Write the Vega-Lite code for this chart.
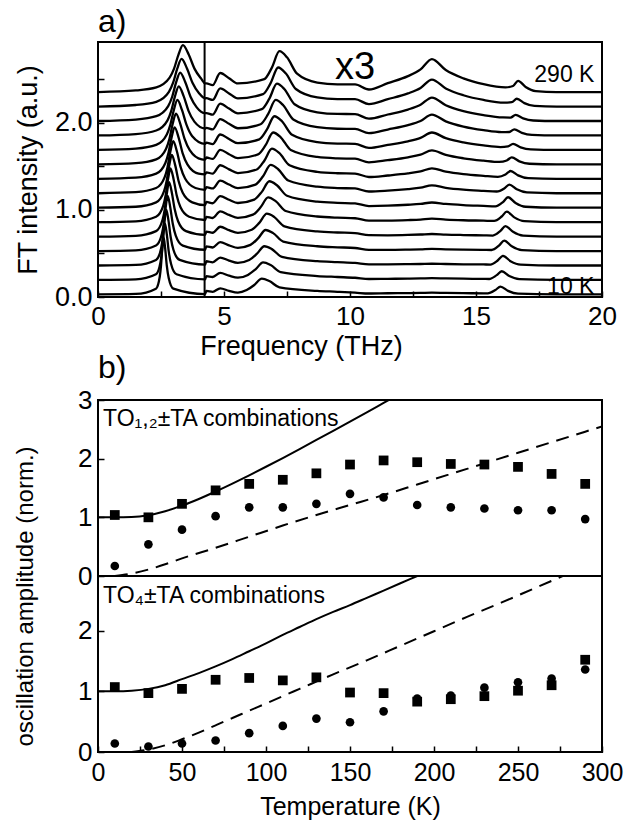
{
"$schema": "https://vega.github.io/schema/vega-lite/v6.json",
"padding": {"left": 11, "top": 4, "right": 0, "bottom": 0},
"config": {
 "font": "Liberation Sans",
 "view": {"stroke": "black", "strokeWidth": 2},
 "axis": {"domain": false, "grid": false, "tickColor": "black", "tickWidth": 1.5, "tickSize": -6, "labelColor": "black", "titleColor": "black", "titleFontWeight": "normal", "labelFlush": false, "labelOverlap": false}
},
"datasets": {
"spec": [
{"k":10,"f":0,"v":0.03},{"k":10,"f":1.5,"v":0.035},{"k":10,"f":2.3,"v":0.096},{"k":10,"f":2.45,"v":0.233},{"k":10,"f":2.5,"v":0.36},{"k":10,"f":2.55,"v":0.558},{"k":10,"f":2.6,"v":0.69},{"k":10,"f":2.665,"v":0.558},{"k":10,"f":2.73,"v":0.36},{"k":10,"f":2.808,"v":0.215},{"k":10,"f":2.99,"v":0.096},{"k":10,"f":4.25,"v":0.033},
{"k":10,"f":4.3,"v":0.07},{"k":10,"f":4.55,"v":0.06},{"k":10,"f":4.85,"v":0.1},{"k":10,"f":5.2,"v":0.07},{"k":10,"f":5.55,"v":0.05},{"k":10,"f":5.9,"v":0.08},{"k":10,"f":6.2,"v":0.138},{"k":10,"f":6.5,"v":0.21},{"k":10,"f":6.8,"v":0.183},{"k":10,"f":7.2,"v":0.111},{"k":10,"f":8.7,"v":0.07},{"k":10,"f":9.5,"v":0.06},{"k":10,"f":10.2,"v":0.05},{"k":10,"f":10.75,"v":0.04},{"k":10,"f":11.5,"v":0.043},{"k":10,"f":12.3,"v":0.045},{"k":10,"f":12.8,"v":0.047},{"k":10,"f":13.25,"v":0.05},{"k":10,"f":13.8,"v":0.047},{"k":10,"f":14.5,"v":0.044},{"k":10,"f":15.3,"v":0.042},{"k":10,"f":15.47,"v":0.041},{"k":10,"f":15.77,"v":0.08},{"k":10,"f":15.97,"v":0.12},{"k":10,"f":16.27,"v":0.07},{"k":10,"f":16.67,"v":0.038},{"k":10,"f":18.2,"v":0.03},{"k":10,"f":20,"v":0.03},
{"k":30,"f":0,"v":0.196},{"k":30,"f":1.5,"v":0.202},{"k":30,"f":2.301,"v":0.261},{"k":30,"f":2.478,"v":0.397},{"k":30,"f":2.537,"v":0.522},{"k":30,"f":2.596,"v":0.717},{"k":30,"f":2.655,"v":0.847},{"k":30,"f":2.732,"v":0.717},{"k":30,"f":2.808,"v":0.522},{"k":30,"f":2.9,"v":0.379},{"k":30,"f":3.115,"v":0.261},{"k":30,"f":4.25,"v":0.202},
{"k":30,"f":4.3,"v":0.24},{"k":30,"f":4.55,"v":0.23},{"k":30,"f":4.85,"v":0.277},{"k":30,"f":5.2,"v":0.245},{"k":30,"f":5.55,"v":0.222},{"k":30,"f":5.95,"v":0.253},{"k":30,"f":6.25,"v":0.317},{"k":30,"f":6.55,"v":0.397},{"k":30,"f":6.85,"v":0.367},{"k":30,"f":7.25,"v":0.286},{"k":30,"f":8.7,"v":0.241},{"k":30,"f":9.5,"v":0.23},{"k":30,"f":10.2,"v":0.221},{"k":30,"f":10.75,"v":0.207},{"k":30,"f":11.5,"v":0.209},{"k":30,"f":12.3,"v":0.211},{"k":30,"f":12.8,"v":0.213},{"k":30,"f":13.25,"v":0.216},{"k":30,"f":13.8,"v":0.213},{"k":30,"f":14.5,"v":0.21},{"k":30,"f":15.3,"v":0.208},{"k":30,"f":15.52,"v":0.207},{"k":30,"f":15.82,"v":0.251},{"k":30,"f":16.02,"v":0.296},{"k":30,"f":16.32,"v":0.241},{"k":30,"f":16.72,"v":0.205},{"k":30,"f":18.2,"v":0.196},{"k":30,"f":20,"v":0.196},
{"k":50,"f":0,"v":0.362},{"k":50,"f":1.5,"v":0.369},{"k":50,"f":2.302,"v":0.426},{"k":50,"f":2.506,"v":0.56},{"k":50,"f":2.574,"v":0.684},{"k":50,"f":2.642,"v":0.876},{"k":50,"f":2.71,"v":1.005},{"k":50,"f":2.798,"v":0.876},{"k":50,"f":2.887,"v":0.684},{"k":50,"f":2.993,"v":0.543},{"k":50,"f":3.24,"v":0.426},{"k":50,"f":4.25,"v":0.372},
{"k":50,"f":4.3,"v":0.411},{"k":50,"f":4.55,"v":0.399},{"k":50,"f":4.85,"v":0.453},{"k":50,"f":5.2,"v":0.419},{"k":50,"f":5.55,"v":0.393},{"k":50,"f":6.0,"v":0.426},{"k":50,"f":6.3,"v":0.495},{"k":50,"f":6.6,"v":0.583},{"k":50,"f":6.9,"v":0.55},{"k":50,"f":7.3,"v":0.461},{"k":50,"f":8.7,"v":0.412},{"k":50,"f":9.5,"v":0.401},{"k":50,"f":10.2,"v":0.392},{"k":50,"f":10.75,"v":0.375},{"k":50,"f":11.5,"v":0.375},{"k":50,"f":12.3,"v":0.377},{"k":50,"f":12.8,"v":0.379},{"k":50,"f":13.25,"v":0.382},{"k":50,"f":13.8,"v":0.379},{"k":50,"f":14.5,"v":0.376},{"k":50,"f":15.3,"v":0.374},{"k":50,"f":15.57,"v":0.373},{"k":50,"f":15.87,"v":0.422},{"k":50,"f":16.07,"v":0.472},{"k":50,"f":16.37,"v":0.412},{"k":50,"f":16.77,"v":0.372},{"k":50,"f":18.2,"v":0.362},{"k":50,"f":20,"v":0.362},
{"k":70,"f":0,"v":0.528},{"k":70,"f":1.5,"v":0.536},{"k":70,"f":2.303,"v":0.591},{"k":70,"f":2.534,"v":0.723},{"k":70,"f":2.611,"v":0.845},{"k":70,"f":2.688,"v":1.035},{"k":70,"f":2.765,"v":1.162},{"k":70,"f":2.865,"v":1.035},{"k":70,"f":2.965,"v":0.845},{"k":70,"f":3.085,"v":0.706},{"k":70,"f":3.366,"v":0.591},{"k":70,"f":4.25,"v":0.543},
{"k":70,"f":4.3,"v":0.581},{"k":70,"f":4.55,"v":0.569},{"k":70,"f":4.85,"v":0.63},{"k":70,"f":5.2,"v":0.594},{"k":70,"f":5.55,"v":0.565},{"k":70,"f":6.05,"v":0.599},{"k":70,"f":6.35,"v":0.673},{"k":70,"f":6.65,"v":0.77},{"k":70,"f":6.95,"v":0.734},{"k":70,"f":7.35,"v":0.637},{"k":70,"f":8.7,"v":0.583},{"k":70,"f":9.5,"v":0.571},{"k":70,"f":10.2,"v":0.563},{"k":70,"f":10.75,"v":0.542},{"k":70,"f":11.5,"v":0.542},{"k":70,"f":12.3,"v":0.545},{"k":70,"f":12.8,"v":0.548},{"k":70,"f":13.25,"v":0.553},{"k":70,"f":13.8,"v":0.548},{"k":70,"f":14.5,"v":0.544},{"k":70,"f":15.3,"v":0.541},{"k":70,"f":15.62,"v":0.54},{"k":70,"f":15.92,"v":0.593},{"k":70,"f":16.12,"v":0.648},{"k":70,"f":16.42,"v":0.583},{"k":70,"f":16.82,"v":0.539},{"k":70,"f":18.2,"v":0.528},{"k":70,"f":20,"v":0.528},
{"k":90,"f":0,"v":0.694},{"k":90,"f":1.5,"v":0.703},{"k":90,"f":2.304,"v":0.757},{"k":90,"f":2.562,"v":0.887},{"k":90,"f":2.648,"v":1.007},{"k":90,"f":2.734,"v":1.195},{"k":90,"f":2.82,"v":1.32},{"k":90,"f":2.932,"v":1.195},{"k":90,"f":3.044,"v":1.007},{"k":90,"f":3.178,"v":0.87},{"k":90,"f":3.491,"v":0.757},{"k":90,"f":4.25,"v":0.714},
{"k":90,"f":4.3,"v":0.751},{"k":90,"f":4.55,"v":0.738},{"k":90,"f":4.85,"v":0.807},{"k":90,"f":5.2,"v":0.768},{"k":90,"f":5.55,"v":0.737},{"k":90,"f":6.1,"v":0.773},{"k":90,"f":6.4,"v":0.852},{"k":90,"f":6.7,"v":0.957},{"k":90,"f":7.0,"v":0.918},{"k":90,"f":7.4,"v":0.812},{"k":90,"f":8.7,"v":0.754},{"k":90,"f":9.5,"v":0.741},{"k":90,"f":10.2,"v":0.734},{"k":90,"f":10.75,"v":0.71},{"k":90,"f":11.5,"v":0.709},{"k":90,"f":12.3,"v":0.713},{"k":90,"f":12.8,"v":0.718},{"k":90,"f":13.25,"v":0.724},{"k":90,"f":13.8,"v":0.717},{"k":90,"f":14.5,"v":0.712},{"k":90,"f":15.3,"v":0.708},{"k":90,"f":15.67,"v":0.706},{"k":90,"f":15.97,"v":0.759},{"k":90,"f":16.17,"v":0.814},{"k":90,"f":16.47,"v":0.749},{"k":90,"f":16.87,"v":0.705},{"k":90,"f":18.2,"v":0.694},{"k":90,"f":20,"v":0.694},
{"k":110,"f":0,"v":0.86},{"k":110,"f":1.5,"v":0.87},{"k":110,"f":2.305,"v":0.922},{"k":110,"f":2.59,"v":1.05},{"k":110,"f":2.685,"v":1.169},{"k":110,"f":2.78,"v":1.354},{"k":110,"f":2.875,"v":1.477},{"k":110,"f":2.999,"v":1.354},{"k":110,"f":3.122,"v":1.169},{"k":110,"f":3.27,"v":1.033},{"k":110,"f":3.616,"v":0.922},{"k":110,"f":4.25,"v":0.885},
{"k":110,"f":4.3,"v":0.921},{"k":110,"f":4.55,"v":0.908},{"k":110,"f":4.85,"v":0.984},{"k":110,"f":5.2,"v":0.943},{"k":110,"f":5.55,"v":0.909},{"k":110,"f":6.15,"v":0.946},{"k":110,"f":6.45,"v":1.03},{"k":110,"f":6.75,"v":1.144},{"k":110,"f":7.05,"v":1.101},{"k":110,"f":7.45,"v":0.988},{"k":110,"f":8.7,"v":0.925},{"k":110,"f":9.5,"v":0.911},{"k":110,"f":10.2,"v":0.905},{"k":110,"f":10.75,"v":0.877},{"k":110,"f":11.5,"v":0.878},{"k":110,"f":12.3,"v":0.884},{"k":110,"f":12.8,"v":0.89},{"k":110,"f":13.25,"v":0.9},{"k":110,"f":13.8,"v":0.89},{"k":110,"f":14.5,"v":0.882},{"k":110,"f":15.3,"v":0.877},{"k":110,"f":15.72,"v":0.874},{"k":110,"f":16.02,"v":0.925},{"k":110,"f":16.22,"v":0.98},{"k":110,"f":16.52,"v":0.915},{"k":110,"f":16.92,"v":0.871},{"k":110,"f":18.2,"v":0.86},{"k":110,"f":20,"v":0.86},
{"k":130,"f":0,"v":1.026},{"k":130,"f":1.5,"v":1.037},{"k":130,"f":2.306,"v":1.087},{"k":130,"f":2.618,"v":1.213},{"k":130,"f":2.722,"v":1.33},{"k":130,"f":2.826,"v":1.512},{"k":130,"f":2.93,"v":1.634},{"k":130,"f":3.065,"v":1.512},{"k":130,"f":3.2,"v":1.33},{"k":130,"f":3.362,"v":1.197},{"k":130,"f":3.741,"v":1.087},{"k":130,"f":4.25,"v":1.056},
{"k":130,"f":4.3,"v":1.092},{"k":130,"f":4.55,"v":1.077},{"k":130,"f":4.85,"v":1.16},{"k":130,"f":5.2,"v":1.117},{"k":130,"f":5.55,"v":1.08},{"k":130,"f":6.2,"v":1.119},{"k":130,"f":6.5,"v":1.208},{"k":130,"f":6.8,"v":1.33},{"k":130,"f":7.1,"v":1.284},{"k":130,"f":7.5,"v":1.163},{"k":130,"f":8.7,"v":1.096},{"k":130,"f":9.5,"v":1.082},{"k":130,"f":10.2,"v":1.076},{"k":130,"f":10.75,"v":1.045},{"k":130,"f":11.5,"v":1.049},{"k":130,"f":12.3,"v":1.06},{"k":130,"f":12.8,"v":1.07},{"k":130,"f":13.25,"v":1.086},{"k":130,"f":13.8,"v":1.069},{"k":130,"f":14.5,"v":1.056},{"k":130,"f":15.3,"v":1.047},{"k":130,"f":15.77,"v":1.042},{"k":130,"f":16.07,"v":1.091},{"k":130,"f":16.27,"v":1.146},{"k":130,"f":16.57,"v":1.081},{"k":130,"f":16.97,"v":1.037},{"k":130,"f":18.2,"v":1.026},{"k":130,"f":20,"v":1.026},
{"k":150,"f":0,"v":1.192},{"k":150,"f":1.5,"v":1.204},{"k":150,"f":2.307,"v":1.252},{"k":150,"f":2.646,"v":1.377},{"k":150,"f":2.759,"v":1.492},{"k":150,"f":2.872,"v":1.672},{"k":150,"f":2.985,"v":1.792},{"k":150,"f":3.132,"v":1.672},{"k":150,"f":3.279,"v":1.492},{"k":150,"f":3.455,"v":1.361},{"k":150,"f":3.866,"v":1.252},{"k":150,"f":4.25,"v":1.232},
{"k":150,"f":4.3,"v":1.262},{"k":150,"f":4.55,"v":1.247},{"k":150,"f":4.85,"v":1.337},{"k":150,"f":5.2,"v":1.292},{"k":150,"f":5.55,"v":1.252},{"k":150,"f":6.25,"v":1.292},{"k":150,"f":6.55,"v":1.387},{"k":150,"f":6.85,"v":1.517},{"k":150,"f":7.15,"v":1.468},{"k":150,"f":7.55,"v":1.338},{"k":150,"f":8.7,"v":1.267},{"k":150,"f":9.5,"v":1.252},{"k":150,"f":10.2,"v":1.247},{"k":150,"f":10.75,"v":1.212},{"k":150,"f":11.5,"v":1.222},{"k":150,"f":12.3,"v":1.24},{"k":150,"f":12.8,"v":1.256},{"k":150,"f":13.25,"v":1.282},{"k":150,"f":13.8,"v":1.255},{"k":150,"f":14.5,"v":1.234},{"k":150,"f":15.3,"v":1.22},{"k":150,"f":15.82,"v":1.212},{"k":150,"f":16.12,"v":1.247},{"k":150,"f":16.32,"v":1.292},{"k":150,"f":16.62,"v":1.237},{"k":150,"f":17.02,"v":1.201},{"k":150,"f":18.2,"v":1.192},{"k":150,"f":20,"v":1.192},
{"k":170,"f":0,"v":1.358},{"k":170,"f":1.5,"v":1.371},{"k":170,"f":2.308,"v":1.417},{"k":170,"f":2.674,"v":1.54},{"k":170,"f":2.796,"v":1.654},{"k":170,"f":2.918,"v":1.831},{"k":170,"f":3.04,"v":1.949},{"k":170,"f":3.199,"v":1.831},{"k":170,"f":3.357,"v":1.654},{"k":170,"f":3.547,"v":1.524},{"k":170,"f":3.992,"v":1.417},{"k":170,"f":4.25,"v":1.408},
{"k":170,"f":4.3,"v":1.432},{"k":170,"f":4.55,"v":1.417},{"k":170,"f":4.85,"v":1.514},{"k":170,"f":5.2,"v":1.467},{"k":170,"f":5.55,"v":1.424},{"k":170,"f":6.3,"v":1.465},{"k":170,"f":6.6,"v":1.566},{"k":170,"f":6.9,"v":1.704},{"k":170,"f":7.2,"v":1.652},{"k":170,"f":7.6,"v":1.514},{"k":170,"f":8.7,"v":1.438},{"k":170,"f":9.5,"v":1.422},{"k":170,"f":10.2,"v":1.418},{"k":170,"f":10.75,"v":1.379},{"k":170,"f":11.5,"v":1.396},{"k":170,"f":12.3,"v":1.42},{"k":170,"f":12.8,"v":1.443},{"k":170,"f":13.25,"v":1.478},{"k":170,"f":13.8,"v":1.441},{"k":170,"f":14.5,"v":1.412},{"k":170,"f":15.3,"v":1.392},{"k":170,"f":15.87,"v":1.381},{"k":170,"f":16.17,"v":1.408},{"k":170,"f":16.37,"v":1.448},{"k":170,"f":16.67,"v":1.398},{"k":170,"f":17.07,"v":1.366},{"k":170,"f":18.2,"v":1.358},{"k":170,"f":20,"v":1.358},
{"k":190,"f":0,"v":1.524},{"k":190,"f":1.5,"v":1.538},{"k":190,"f":2.309,"v":1.582},{"k":190,"f":2.702,"v":1.704},{"k":190,"f":2.833,"v":1.816},{"k":190,"f":2.964,"v":1.99},{"k":190,"f":3.095,"v":2.107},{"k":190,"f":3.265,"v":1.99},{"k":190,"f":3.436,"v":1.816},{"k":190,"f":3.64,"v":1.688},{"k":190,"f":4.117,"v":1.582},{"k":190,"f":4.25,"v":1.579},
{"k":190,"f":4.3,"v":1.603},{"k":190,"f":4.55,"v":1.586},{"k":190,"f":4.85,"v":1.69},{"k":190,"f":5.2,"v":1.641},{"k":190,"f":5.55,"v":1.595},{"k":190,"f":6.35,"v":1.638},{"k":190,"f":6.65,"v":1.744},{"k":190,"f":6.95,"v":1.89},{"k":190,"f":7.25,"v":1.835},{"k":190,"f":7.65,"v":1.689},{"k":190,"f":8.7,"v":1.609},{"k":190,"f":9.5,"v":1.593},{"k":190,"f":10.2,"v":1.589},{"k":190,"f":10.75,"v":1.547},{"k":190,"f":11.5,"v":1.572},{"k":190,"f":12.3,"v":1.605},{"k":190,"f":12.8,"v":1.636},{"k":190,"f":13.25,"v":1.684},{"k":190,"f":13.8,"v":1.633},{"k":190,"f":14.5,"v":1.594},{"k":190,"f":15.3,"v":1.567},{"k":190,"f":15.92,"v":1.552},{"k":190,"f":16.22,"v":1.569},{"k":190,"f":16.42,"v":1.604},{"k":190,"f":16.72,"v":1.559},{"k":190,"f":17.12,"v":1.531},{"k":190,"f":18.2,"v":1.524},{"k":190,"f":20,"v":1.524},
{"k":210,"f":0,"v":1.69},{"k":210,"f":1.5,"v":1.705},{"k":210,"f":2.31,"v":1.747},{"k":210,"f":2.73,"v":1.867},{"k":210,"f":2.87,"v":1.977},{"k":210,"f":3.01,"v":2.149},{"k":210,"f":3.15,"v":2.264},{"k":210,"f":3.332,"v":2.149},{"k":210,"f":3.514,"v":1.977},{"k":210,"f":3.732,"v":1.851},{"k":210,"f":4.25,"v":1.76},
{"k":210,"f":4.3,"v":1.773},{"k":210,"f":4.55,"v":1.756},{"k":210,"f":4.85,"v":1.867},{"k":210,"f":5.2,"v":1.816},{"k":210,"f":5.55,"v":1.767},{"k":210,"f":6.4,"v":1.811},{"k":210,"f":6.7,"v":1.922},{"k":210,"f":7.0,"v":2.077},{"k":210,"f":7.3,"v":2.019},{"k":210,"f":7.7,"v":1.864},{"k":210,"f":8.7,"v":1.78},{"k":210,"f":9.5,"v":1.763},{"k":210,"f":10.2,"v":1.76},{"k":210,"f":10.75,"v":1.714},{"k":210,"f":11.5,"v":1.748},{"k":210,"f":12.3,"v":1.789},{"k":210,"f":12.8,"v":1.829},{"k":210,"f":13.25,"v":1.89},{"k":210,"f":13.8,"v":1.825},{"k":210,"f":14.5,"v":1.776},{"k":210,"f":15.3,"v":1.742},{"k":210,"f":15.97,"v":1.723},{"k":210,"f":16.27,"v":1.73},{"k":210,"f":16.47,"v":1.76},{"k":210,"f":16.77,"v":1.72},{"k":210,"f":17.17,"v":1.696},{"k":210,"f":18.2,"v":1.69},{"k":210,"f":20,"v":1.69},
{"k":230,"f":0,"v":1.856},{"k":230,"f":1.5,"v":1.872},{"k":230,"f":2.311,"v":1.913},{"k":230,"f":2.758,"v":2.03},{"k":230,"f":2.907,"v":2.139},{"k":230,"f":3.056,"v":2.308},{"k":230,"f":3.205,"v":2.421},{"k":230,"f":3.399,"v":2.308},{"k":230,"f":3.592,"v":2.139},{"k":230,"f":3.824,"v":2.015},{"k":230,"f":4.25,"v":1.936},
{"k":230,"f":4.3,"v":1.943},{"k":230,"f":4.55,"v":1.925},{"k":230,"f":4.85,"v":2.044},{"k":230,"f":5.2,"v":1.99},{"k":230,"f":5.55,"v":1.939},{"k":230,"f":6.45,"v":1.985},{"k":230,"f":6.75,"v":2.101},{"k":230,"f":7.05,"v":2.264},{"k":230,"f":7.35,"v":2.203},{"k":230,"f":7.75,"v":2.04},{"k":230,"f":8.7,"v":1.951},{"k":230,"f":9.5,"v":1.933},{"k":230,"f":10.2,"v":1.931},{"k":230,"f":10.75,"v":1.882},{"k":230,"f":11.5,"v":1.924},{"k":230,"f":12.3,"v":1.974},{"k":230,"f":12.8,"v":2.022},{"k":230,"f":13.25,"v":2.096},{"k":230,"f":13.8,"v":2.018},{"k":230,"f":14.5,"v":1.958},{"k":230,"f":15.3,"v":1.917},{"k":230,"f":16.02,"v":1.894},{"k":230,"f":16.32,"v":1.896},{"k":230,"f":16.52,"v":1.926},{"k":230,"f":16.82,"v":1.886},{"k":230,"f":17.22,"v":1.862},{"k":230,"f":18.2,"v":1.856},{"k":230,"f":20,"v":1.856},
{"k":250,"f":0,"v":2.022},{"k":250,"f":1.5,"v":2.039},{"k":250,"f":2.312,"v":2.078},{"k":250,"f":2.786,"v":2.194},{"k":250,"f":2.944,"v":2.301},{"k":250,"f":3.102,"v":2.468},{"k":250,"f":3.26,"v":2.579},{"k":250,"f":3.465,"v":2.468},{"k":250,"f":3.671,"v":2.301},{"k":250,"f":3.917,"v":2.179},{"k":250,"f":4.25,"v":2.112},
{"k":250,"f":4.3,"v":2.113},{"k":250,"f":4.55,"v":2.095},{"k":250,"f":4.85,"v":2.221},{"k":250,"f":5.2,"v":2.165},{"k":250,"f":5.55,"v":2.111},{"k":250,"f":6.5,"v":2.158},{"k":250,"f":6.8,"v":2.279},{"k":250,"f":7.1,"v":2.451},{"k":250,"f":7.4,"v":2.387},{"k":250,"f":7.8,"v":2.215},{"k":250,"f":8.7,"v":2.122},{"k":250,"f":9.5,"v":2.103},{"k":250,"f":10.2,"v":2.102},{"k":250,"f":10.75,"v":2.049},{"k":250,"f":11.5,"v":2.097},{"k":250,"f":12.3,"v":2.154},{"k":250,"f":12.8,"v":2.209},{"k":250,"f":13.25,"v":2.292},{"k":250,"f":13.8,"v":2.204},{"k":250,"f":14.5,"v":2.136},{"k":250,"f":15.3,"v":2.089},{"k":250,"f":16.07,"v":2.063},{"k":250,"f":16.37,"v":2.062},{"k":250,"f":16.57,"v":2.092},{"k":250,"f":16.87,"v":2.052},{"k":250,"f":17.27,"v":2.028},{"k":250,"f":18.2,"v":2.022},{"k":250,"f":20,"v":2.022},
{"k":270,"f":0,"v":2.188},{"k":270,"f":1.5,"v":2.206},{"k":270,"f":2.313,"v":2.243},{"k":270,"f":2.814,"v":2.357},{"k":270,"f":2.981,"v":2.462},{"k":270,"f":3.148,"v":2.626},{"k":270,"f":3.315,"v":2.736},{"k":270,"f":3.532,"v":2.626},{"k":270,"f":3.749,"v":2.462},{"k":270,"f":4.009,"v":2.342},{"k":270,"f":4.25,"v":2.283},
{"k":270,"f":4.3,"v":2.284},{"k":270,"f":4.55,"v":2.264},{"k":270,"f":4.85,"v":2.397},{"k":270,"f":5.2,"v":2.339},{"k":270,"f":5.55,"v":2.282},{"k":270,"f":6.55,"v":2.331},{"k":270,"f":6.85,"v":2.457},{"k":270,"f":7.15,"v":2.637},{"k":270,"f":7.45,"v":2.57},{"k":270,"f":7.85,"v":2.39},{"k":270,"f":8.7,"v":2.293},{"k":270,"f":9.5,"v":2.274},{"k":270,"f":10.2,"v":2.273},{"k":270,"f":10.75,"v":2.217},{"k":270,"f":11.5,"v":2.273},{"k":270,"f":12.3,"v":2.339},{"k":270,"f":12.8,"v":2.402},{"k":270,"f":13.25,"v":2.498},{"k":270,"f":13.8,"v":2.396},{"k":270,"f":14.5,"v":2.318},{"k":270,"f":15.3,"v":2.264},{"k":270,"f":16.12,"v":2.234},{"k":270,"f":16.42,"v":2.238},{"k":270,"f":16.62,"v":2.278},{"k":270,"f":16.92,"v":2.228},{"k":270,"f":17.32,"v":2.196},{"k":270,"f":18.2,"v":2.188},{"k":270,"f":20,"v":2.188},
{"k":290,"f":0,"v":2.354},{"k":290,"f":1.5,"v":2.373},{"k":290,"f":2.314,"v":2.408},{"k":290,"f":2.842,"v":2.52},{"k":290,"f":3.018,"v":2.624},{"k":290,"f":3.194,"v":2.786},{"k":290,"f":3.37,"v":2.894},{"k":290,"f":3.599,"v":2.786},{"k":290,"f":3.828,"v":2.624},{"k":290,"f":4.102,"v":2.506},{"k":290,"f":4.25,"v":2.454},
{"k":290,"f":4.3,"v":2.454},{"k":290,"f":4.55,"v":2.434},{"k":290,"f":4.85,"v":2.574},{"k":290,"f":5.2,"v":2.514},{"k":290,"f":5.55,"v":2.454},{"k":290,"f":6.6,"v":2.504},{"k":290,"f":6.9,"v":2.636},{"k":290,"f":7.2,"v":2.824},{"k":290,"f":7.5,"v":2.754},{"k":290,"f":7.9,"v":2.566},{"k":290,"f":8.7,"v":2.464},{"k":290,"f":9.5,"v":2.444},{"k":290,"f":10.2,"v":2.444},{"k":290,"f":10.75,"v":2.384},{"k":290,"f":11.5,"v":2.457},{"k":290,"f":12.3,"v":2.538},{"k":290,"f":12.8,"v":2.616},{"k":290,"f":13.25,"v":2.734},{"k":290,"f":13.8,"v":2.608},{"k":290,"f":14.5,"v":2.512},{"k":290,"f":15.3,"v":2.445},{"k":290,"f":16.17,"v":2.408},{"k":290,"f":16.47,"v":2.424},{"k":290,"f":16.67,"v":2.484},{"k":290,"f":16.97,"v":2.414},{"k":290,"f":17.37,"v":2.366},{"k":290,"f":18.2,"v":2.354},{"k":290,"f":20,"v":2.354}
],
"amp": [
{"p":"u","s":"sq","T":10,"v":1.04},{"p":"u","s":"sq","T":30,"v":1.0},{"p":"u","s":"sq","T":50,"v":1.23},{"p":"u","s":"sq","T":70,"v":1.46},{"p":"u","s":"sq","T":90,"v":1.57},{"p":"u","s":"sq","T":110,"v":1.64},{"p":"u","s":"sq","T":130,"v":1.75},{"p":"u","s":"sq","T":150,"v":1.9},{"p":"u","s":"sq","T":170,"v":1.97},{"p":"u","s":"sq","T":190,"v":1.94},{"p":"u","s":"sq","T":210,"v":1.91},{"p":"u","s":"sq","T":230,"v":1.9},{"p":"u","s":"sq","T":250,"v":1.86},{"p":"u","s":"sq","T":270,"v":1.74},{"p":"u","s":"sq","T":290,"v":1.57},
{"p":"u","s":"ci","T":10,"v":0.17},{"p":"u","s":"ci","T":30,"v":0.54},{"p":"u","s":"ci","T":50,"v":0.79},{"p":"u","s":"ci","T":70,"v":1.02},{"p":"u","s":"ci","T":90,"v":1.17},{"p":"u","s":"ci","T":110,"v":1.17},{"p":"u","s":"ci","T":130,"v":1.23},{"p":"u","s":"ci","T":150,"v":1.4},{"p":"u","s":"ci","T":170,"v":1.34},{"p":"u","s":"ci","T":190,"v":1.21},{"p":"u","s":"ci","T":210,"v":1.17},{"p":"u","s":"ci","T":230,"v":1.15},{"p":"u","s":"ci","T":250,"v":1.12},{"p":"u","s":"ci","T":270,"v":1.12},{"p":"u","s":"ci","T":290,"v":0.97},
{"p":"l","s":"sq","T":10,"v":1.07},{"p":"l","s":"sq","T":30,"v":0.97},{"p":"l","s":"sq","T":50,"v":1.04},{"p":"l","s":"sq","T":70,"v":1.19},{"p":"l","s":"sq","T":90,"v":1.22},{"p":"l","s":"sq","T":110,"v":1.18},{"p":"l","s":"sq","T":130,"v":1.23},{"p":"l","s":"sq","T":150,"v":0.98},{"p":"l","s":"sq","T":170,"v":0.97},{"p":"l","s":"sq","T":190,"v":0.83},{"p":"l","s":"sq","T":210,"v":0.87},{"p":"l","s":"sq","T":230,"v":0.92},{"p":"l","s":"sq","T":250,"v":1.01},{"p":"l","s":"sq","T":270,"v":1.1},{"p":"l","s":"sq","T":290,"v":1.52},
{"p":"l","s":"ci","T":10,"v":0.14},{"p":"l","s":"ci","T":30,"v":0.09},{"p":"l","s":"ci","T":50,"v":0.14},{"p":"l","s":"ci","T":70,"v":0.19},{"p":"l","s":"ci","T":90,"v":0.31},{"p":"l","s":"ci","T":110,"v":0.43},{"p":"l","s":"ci","T":130,"v":0.55},{"p":"l","s":"ci","T":150,"v":0.49},{"p":"l","s":"ci","T":170,"v":0.67},{"p":"l","s":"ci","T":190,"v":0.88},{"p":"l","s":"ci","T":210,"v":0.93},{"p":"l","s":"ci","T":230,"v":1.06},{"p":"l","s":"ci","T":250,"v":1.15},{"p":"l","s":"ci","T":270,"v":1.21},{"p":"l","s":"ci","T":290,"v":1.36}
],
"fit": [
{"p":"u","d":0,"T":0,"v":1.0},{"p":"u","d":0,"T":10,"v":1.0},{"p":"u","d":0,"T":20,"v":1.005},{"p":"u","d":0,"T":30,"v":1.037},{"p":"u","d":0,"T":40,"v":1.105},{"p":"u","d":0,"T":50,"v":1.199},{"p":"u","d":0,"T":60,"v":1.313},{"p":"u","d":0,"T":70,"v":1.44},{"p":"u","d":0,"T":80,"v":1.575},{"p":"u","d":0,"T":90,"v":1.716},{"p":"u","d":0,"T":100,"v":1.862},{"p":"u","d":0,"T":110,"v":2.011},{"p":"u","d":0,"T":120,"v":2.164},{"p":"u","d":0,"T":130,"v":2.319},{"p":"u","d":0,"T":140,"v":2.475},{"p":"u","d":0,"T":150,"v":2.632},{"p":"u","d":0,"T":160,"v":2.79},{"p":"u","d":0,"T":170,"v":2.95},{"p":"u","d":0,"T":180,"v":3.11},
{"p":"u","d":1,"T":10,"v":0.0},{"p":"u","d":1,"T":20,"v":0.04},{"p":"u","d":1,"T":30,"v":0.11},{"p":"u","d":1,"T":40,"v":0.2},{"p":"u","d":1,"T":50,"v":0.3},{"p":"u","d":1,"T":70,"v":0.48},{"p":"u","d":1,"T":90,"v":0.67},{"p":"u","d":1,"T":110,"v":0.86},{"p":"u","d":1,"T":130,"v":1.04},{"p":"u","d":1,"T":150,"v":1.21},{"p":"u","d":1,"T":170,"v":1.38},{"p":"u","d":1,"T":190,"v":1.56},{"p":"u","d":1,"T":210,"v":1.74},{"p":"u","d":1,"T":230,"v":1.92},{"p":"u","d":1,"T":250,"v":2.1},{"p":"u","d":1,"T":270,"v":2.28},{"p":"u","d":1,"T":290,"v":2.46},{"p":"u","d":1,"T":300,"v":2.55},
{"p":"l","d":0,"T":0,"v":1.0},{"p":"l","d":0,"T":10,"v":1.0},{"p":"l","d":0,"T":20,"v":1.01},{"p":"l","d":0,"T":30,"v":1.04},{"p":"l","d":0,"T":40,"v":1.1},{"p":"l","d":0,"T":50,"v":1.2},{"p":"l","d":0,"T":60,"v":1.3},{"p":"l","d":0,"T":70,"v":1.41},{"p":"l","d":0,"T":80,"v":1.53},{"p":"l","d":0,"T":90,"v":1.66},{"p":"l","d":0,"T":100,"v":1.79},{"p":"l","d":0,"T":110,"v":1.93},{"p":"l","d":0,"T":120,"v":2.06},{"p":"l","d":0,"T":130,"v":2.19},{"p":"l","d":0,"T":140,"v":2.31},{"p":"l","d":0,"T":150,"v":2.42},{"p":"l","d":0,"T":160,"v":2.54},{"p":"l","d":0,"T":170,"v":2.66},{"p":"l","d":0,"T":180,"v":2.78},{"p":"l","d":0,"T":190,"v":2.9},{"p":"l","d":0,"T":200,"v":3.02},
{"p":"l","d":1,"T":20,"v":0.0},{"p":"l","d":1,"T":30,"v":0.04},{"p":"l","d":1,"T":40,"v":0.11},{"p":"l","d":1,"T":50,"v":0.21},{"p":"l","d":1,"T":60,"v":0.32},{"p":"l","d":1,"T":70,"v":0.44},{"p":"l","d":1,"T":80,"v":0.56},{"p":"l","d":1,"T":90,"v":0.68},{"p":"l","d":1,"T":100,"v":0.8},{"p":"l","d":1,"T":120,"v":1.04},{"p":"l","d":1,"T":140,"v":1.28},{"p":"l","d":1,"T":160,"v":1.51},{"p":"l","d":1,"T":180,"v":1.75},{"p":"l","d":1,"T":200,"v":1.99},{"p":"l","d":1,"T":220,"v":2.23},{"p":"l","d":1,"T":240,"v":2.46},{"p":"l","d":1,"T":260,"v":2.7},{"p":"l","d":1,"T":280,"v":2.94}
]
},
"bounds": "flush",
"spacing": 103,
"vconcat": [
{
 "width": 504, "height": 255,
 "title": {"text": "a)", "anchor": "start", "frame": "group", "fontSize": 32, "fontWeight": "normal", "offset": 2, "color": "black"},
 "layer": [
  {"data": {"name": "spec"},
   "mark": {"type": "line", "color": "black", "strokeWidth": 2.3, "interpolate": "monotone"},
   "encoding": {
    "x": {"field": "f", "type": "quantitative", "scale": {"domain": [0, 20], "nice": false},
          "axis": {"title": "Frequency (THz)", "values": [0,2.5,5,7.5,10,12.5,15,17.5,20], "labelExpr": "datum.value % 5 === 0 ? datum.label : ''", "labelFontSize": 26, "titleFontSize": 27, "labelPadding": 12, "titleX": 203, "titleY": 57, "titleBaseline": "alphabetic"}},
    "y": {"field": "v", "type": "quantitative", "scale": {"domain": [0, 2.93], "nice": false},
          "axis": {"title": "FT intensity (a.u.)", "values": [0,0.25,0.5,0.75,1,1.25,1.5,1.75,2,2.25,2.5,2.75], "labelExpr": "datum.value % 1 === 0 ? format(datum.value, '.1f') : ''", "labelFontSize": 27, "titleFontSize": 27, "labelPadding": 12, "titleX": -62, "titleBaseline": "alphabetic"}},
    "detail": {"field": "k", "type": "nominal"}
   }},
  {"data": {"values": [{"f": 4.23}]},
   "mark": {"type": "rule", "color": "black", "strokeWidth": 2},
   "encoding": {"x": {"field": "f", "type": "quantitative"}}},
  {"data": {"values": [{"t": "290 K", "f": 19.7, "v": 2.55}, {"t": "10 K", "f": 19.7, "v": 0.11}]},
   "mark": {"type": "text", "align": "right", "baseline": "middle", "fontSize": 23, "color": "black"},
   "encoding": {"x": {"field": "f", "type": "quantitative"}, "y": {"field": "v", "type": "quantitative"}, "text": {"field": "t"}}},
  {"data": {"values": [{"t": "x3", "f": 10.2, "v": 2.63}]},
   "mark": {"type": "text", "align": "center", "baseline": "middle", "fontSize": 38, "color": "black"},
   "encoding": {"x": {"field": "f", "type": "quantitative"}, "y": {"field": "v", "type": "quantitative"}, "text": {"field": "t"}}}
 ]
},
{
 "bounds": "flush",
 "spacing": 0,
 "vconcat": [
  {
   "width": 504, "height": 176,
   "title": {"text": "b)", "anchor": "start", "frame": "group", "fontSize": 32, "fontWeight": "normal", "offset": 2, "color": "black"},
   "layer": [
    {"data": {"name": "fit"}, "transform": [{"filter": "datum.p === 'u' && datum.d === 0"}],
     "mark": {"type": "line", "color": "black", "strokeWidth": 2, "interpolate": "monotone", "clip": true},
     "encoding": {
      "x": {"field": "T", "type": "quantitative", "scale": {"domain": [0, 300], "nice": false}, "axis": {"title": null, "labels": false, "ticks": false}},
      "y": {"field": "v", "type": "quantitative", "scale": {"domain": [0, 3], "nice": false},
            "axis": {"title": null, "values": [0,0.5,1,1.5,2,2.5,3], "labelExpr": "datum.value % 1 === 0 ? format(datum.value, 'd') : ''", "labelFontSize": 26, "labelPadding": 12}}
     }},
    {"data": {"name": "fit"}, "transform": [{"filter": "datum.p === 'u' && datum.d === 1"}],
     "mark": {"type": "line", "color": "black", "strokeWidth": 2, "strokeDash": [13, 8], "interpolate": "monotone", "clip": true},
     "encoding": {"x": {"field": "T", "type": "quantitative"}, "y": {"field": "v", "type": "quantitative"}}},
    {"data": {"name": "amp"}, "transform": [{"filter": "datum.p === 'u' && datum.s === 'sq'"}],
     "mark": {"type": "point", "shape": "square", "filled": true, "color": "black", "size": 95, "opacity": 1},
     "encoding": {"x": {"field": "T", "type": "quantitative"}, "y": {"field": "v", "type": "quantitative"}}},
    {"data": {"name": "amp"}, "transform": [{"filter": "datum.p === 'u' && datum.s === 'ci'"}],
     "mark": {"type": "point", "shape": "circle", "filled": true, "color": "black", "size": 75, "opacity": 1},
     "encoding": {"x": {"field": "T", "type": "quantitative"}, "y": {"field": "v", "type": "quantitative"}}},
    {"data": {"values": [{"t": "TO₁,₂±TA combinations", "T": 3, "v": 2.56}]},
     "mark": {"type": "text", "align": "left", "baseline": "alphabetic", "fontSize": 23, "color": "black"},
     "encoding": {"x": {"field": "T", "type": "quantitative"}, "y": {"field": "v", "type": "quantitative"}, "text": {"field": "t"}}}
   ]
  },
  {
   "width": 504, "height": 176,
   "layer": [
    {"data": {"name": "fit"}, "transform": [{"filter": "datum.p === 'l' && datum.d === 0"}],
     "mark": {"type": "line", "color": "black", "strokeWidth": 2, "interpolate": "monotone", "clip": true},
     "encoding": {
      "x": {"field": "T", "type": "quantitative", "scale": {"domain": [0, 300], "nice": false},
            "axis": {"title": "Temperature (K)", "values": [0,25,50,75,100,125,150,175,200,225,250,275,300], "labelExpr": "datum.value % 50 === 0 ? datum.label : ''", "labelFontSize": 25, "titleFontSize": 25, "labelPadding": 14, "titleY": 62, "titleBaseline": "alphabetic"}},
      "y": {"field": "v", "type": "quantitative", "scale": {"domain": [0, 2.9], "nice": false},
            "axis": {"title": "oscillation amplitude (norm.)", "values": [0,0.5,1,1.5,2,2.5], "labelExpr": "datum.value % 1 === 0 ? format(datum.value, 'd') : ''", "labelFontSize": 26, "titleFontSize": 24, "labelPadding": 12, "titleX": -66, "titleY": 20, "titleBaseline": "alphabetic"}}
     }},
    {"data": {"name": "fit"}, "transform": [{"filter": "datum.p === 'l' && datum.d === 1"}],
     "mark": {"type": "line", "color": "black", "strokeWidth": 2, "strokeDash": [13, 8], "interpolate": "monotone", "clip": true},
     "encoding": {"x": {"field": "T", "type": "quantitative"}, "y": {"field": "v", "type": "quantitative"}}},
    {"data": {"name": "amp"}, "transform": [{"filter": "datum.p === 'l' && datum.s === 'sq'"}],
     "mark": {"type": "point", "shape": "square", "filled": true, "color": "black", "size": 95, "opacity": 1},
     "encoding": {"x": {"field": "T", "type": "quantitative"}, "y": {"field": "v", "type": "quantitative"}}},
    {"data": {"name": "amp"}, "transform": [{"filter": "datum.p === 'l' && datum.s === 'ci'"}],
     "mark": {"type": "point", "shape": "circle", "filled": true, "color": "black", "size": 75, "opacity": 1},
     "encoding": {"x": {"field": "T", "type": "quantitative"}, "y": {"field": "v", "type": "quantitative"}}},
    {"data": {"values": [{"t": "TO₄±TA combinations", "T": 3, "v": 2.46}]},
     "mark": {"type": "text", "align": "left", "baseline": "alphabetic", "fontSize": 23, "color": "black"},
     "encoding": {"x": {"field": "T", "type": "quantitative"}, "y": {"field": "v", "type": "quantitative"}, "text": {"field": "t"}}}
   ]
  }
 ]
}
]
}
